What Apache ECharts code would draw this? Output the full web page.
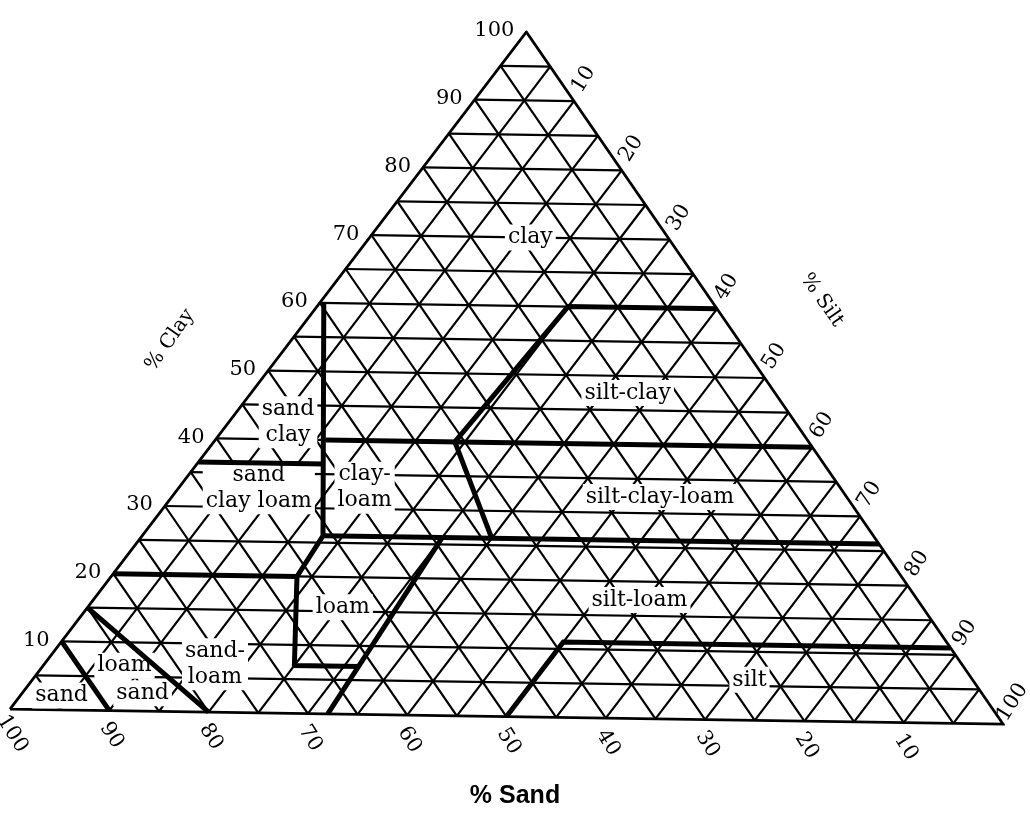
<!DOCTYPE html>
<html><head><meta charset="utf-8">
<script src="https://cdn.jsdelivr.net/npm/echarts@6/dist/echarts.min.js"></script>
<style>html,body{margin:0;padding:0;background:#fff}#chart{width:1030px;height:824px}</style>
</head><body><div id="chart"></div>
<script>
// ---- data (ternary: [sand %, clay %], silt = 100 - sand - clay) ----
const gridSteps = [5,10,15,20,25,30,35,40,45,50,55,60,65,70,75,80,85,90,95];
const clayTicks = [10,20,30,40,50,60,70,80,90,100];
const siltTicks = [10,20,30,40,50,60,70,80,90,100];
const sandTicks = [100,90,80,70,60,50,40,30,20,10];

const sandLine      = [[90,10],[90,0]];
const loamySandLine = [[85,15],[80,0]];
const sandLoamTop   = [[80,20],[61.5,20]];
const clayWestLine  = [[39.6,60],[56,26],[61.5,20],[68,7],[61.5,7]];
const sandClayLine  = [[63.5,36.5],[50.8,36.5]];
const clayBottom    = [[49,40],[0,40]];
const siltClayWest  = [[36,40],[15,60],[0,60]];
const clayLoamEast  = [[36,40],[39,26]];
const clayLoamBottom= [[56,26],[0,26]];
const loamEast      = [[44,26],[68,0]];
const siltLine      = [[50,0],[39,11],[0,11]];

const classNames = ['clay','silt-clay','sand\nclay','sand\nclay loam','clay-\nloam','silt-clay-loam','loam','sand-\nloam','loam','sand','sand','silt-loam','silt'];
const classPos   = [[14,70],[15,47.5],[51.6,42.5],[59.2,32.8],[48.4,33.1],[19,32.4],[59,15.6],[76,7],[85.3,6.6],[85.4,2.6],[93.8,2.1],[28.3,17.3],[22.7,5.9]];

// ---- projection of the (slightly sheared, scanned) triangle onto the cartesian grid ----
const SHEAR_X = 0.52, SHEAR_Y = -0.022;
function toXY(sand, clay) {
  const silt = 100 - sand - clay;
  return [silt + SHEAR_X * clay, clay + SHEAR_Y * silt];
}
const path = pts => ({ coords: pts.map(p => toXY(p[0], p[1])) });

const gridSegs = [];
gridSteps.forEach(v => {
  gridSegs.push(path([[100 - v, v], [0, v]]));      // constant clay
  gridSegs.push(path([[v, 0], [v, 100 - v]]));      // constant sand
  gridSegs.push(path([[100 - v, 0], [0, 100 - v]]));// constant silt
});
const outline = [path([[100,0],[0,0],[0,100],[100,0]])];
const bounds = [sandLine, loamySandLine, sandLoamTop, clayWestLine, sandClayLine, clayBottom,
  siltClayWest, clayLoamEast, clayLoamBottom, loamEast, siltLine].map(path);

const serif = '"DejaVu Serif", "Liberation Serif", serif';
const lineSeries = (data, width, z) => ({
  type: 'lines', coordinateSystem: 'cartesian2d', polyline: true, silent: true, z,
  data, lineStyle: { color: '#000', width, opacity: 1, curveness: 0, join: 'miter' }
});
const textSeries = (data, label) => ({
  type: 'scatter', clip: false, silent: true, symbolSize: 0, z: 5,
  itemStyle: { color: '#fff', opacity: 1 },
  data, label: Object.assign({ show: true, formatter: p => p.name, color: '#000', opacity: 1, fontFamily: serif }, label)
});

const chart = echarts.init(document.getElementById('chart'));
chart.setOption({
  animation: false,
  backgroundColor: '#fff',
  grid: { left: 10, right: 27, top: 32, bottom: 81 },
  xAxis: { type: 'value', min: 0, max: 100, show: false },
  yAxis: { type: 'value', min: -5, max: 100, show: false },
  graphic: [
    { type: 'text', x: 170, y: 340, rotation: 55 * Math.PI / 180,
      style: { text: '% Clay', font: '20px ' + serif, fill: '#000', align: 'center', verticalAlign: 'middle' } },
    { type: 'text', x: 822, y: 300, rotation: -55 * Math.PI / 180,
      style: { text: '% Silt', font: '20px ' + serif, fill: '#000', align: 'center', verticalAlign: 'middle' } },
    { type: 'text', x: 515, y: 796,
      style: { text: '% Sand', font: 'bold 25px "Liberation Sans", Arial, sans-serif', fill: '#000', align: 'center', verticalAlign: 'middle' } }
  ],
  series: [
    lineSeries(gridSegs, 2.2, 2),
    lineSeries(outline, 2.8, 3),
    textSeries(classNames.map((n, i) => ({ value: toXY(classPos[i][0], classPos[i][1]), name: n })),
      { position: 'inside', fontSize: 22, lineHeight: 26, backgroundColor: '#fff', padding: [0, 3], align: 'center' }),
    lineSeries(bounds, 5, 8),
    textSeries(clayTicks.map(c => ({ value: toXY(100 - c, c), name: String(c) })),
      { position: 'left', distance: 12, offset: [0, -1], fontSize: 21 }),
    textSeries(siltTicks.map(s => ({ value: toXY(-2.5, 103.2 - s), name: String(s) })),
      { position: 'inside', rotate: 58, fontSize: 21 }),
    textSeries(sandTicks.map(s => ({ value: toXY(s + 1.5, -3.6), name: String(s) })),
      { position: 'inside', rotate: -58, fontSize: 21 })
  ]
});
</script></body></html>
